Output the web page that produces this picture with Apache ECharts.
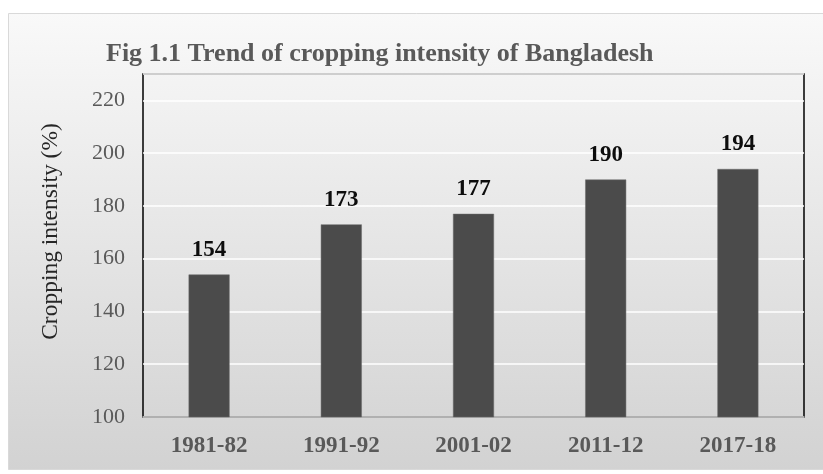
<!DOCTYPE html>
<html>
<head>
<meta charset="utf-8">
<style>
  html, body { margin: 0; padding: 0; background: #ffffff; }
  #chart { width: 823px; height: 474px; }
</style>
<script src="https://cdn.jsdelivr.net/npm/echarts@6/dist/echarts.min.js"></script>
</head>
<body>
<div id="chart"></div>
<script>
// Cropping intensity by survey year
const categories = ['1981-82', '1991-92', '2001-02', '2011-12', '2017-18'];
const intensity = [154, 173, 177, 190, 194];
const yTicks = [100, 120, 140, 160, 180, 200, 220];

const serif = '"Liberation Serif", "Times New Roman", serif';
const chart = echarts.init(document.getElementById('chart'), null, { renderer: 'canvas' });

chart.setOption({
  backgroundColor: '#ffffff',
  animation: false,
  title: {
    text: 'Fig 1.1 Trend of cropping intensity of Bangladesh',
    left: 106,
    top: 41,
    padding: 0,
    textStyle: { fontFamily: serif, fontSize: 26, fontWeight: 'bold', color: '#595959' }
  },
  graphic: [{
    type: 'rect',
    z: -100,
    silent: true,
    shape: { x: 8.5, y: 13.5, width: 830, height: 456 },
    style: {
      fill: new echarts.graphic.LinearGradient(0, 0, 0, 1, [
        { offset: 0, color: '#f9f9f9' },
        { offset: 1, color: '#d2d2d2' }
      ]),
      stroke: '#d9d9d9',
      lineWidth: 1
    }
  }],
  grid: {
    left: 143, top: 74, right: 19, bottom: 57,
    show: true,
    backgroundColor: 'transparent',
    borderColor: '#000000',
    borderWidth: 1.5
  },
  xAxis: {
    type: 'category',
    data: categories,
    axisTick: { show: false },
    axisLine: { show: true, lineStyle: { color: '#a6a6a6', width: 1.5 } },
    axisLabel: { fontFamily: serif, fontSize: 23, fontWeight: 'bold', color: '#595959', margin: 18 }
  },
  yAxis: {
    type: 'value',
    min: 100,
    max: 230,
    interval: 20,
    name: 'Cropping intensity (%)',
    nameLocation: 'middle',
    nameGap: 80,
    nameTextStyle: { fontFamily: serif, fontSize: 23.5, color: '#262626', padding: [0, 0, 0, 28] },
    axisLine: { show: false },
    axisTick: { show: false },
    axisLabel: {
      fontFamily: serif, fontSize: 22, color: '#595959', margin: 18,
      formatter: v => (yTicks.includes(v) ? String(v) : '')
    },
    splitLine: { lineStyle: { color: '#ffffff', width: 1.5 } }
  },
  series: [{
    type: 'bar',
    data: intensity,
    barWidth: '31%',
    itemStyle: { color: '#4b4b4b', borderColor: '#6a6a6a', borderWidth: 0.5 },
    label: {
      show: true,
      position: 'top',
      distance: 13,
      fontFamily: serif, fontSize: 23, fontWeight: 'bold', color: '#0d0d0d'
    }
  }]
});
</script>
</body>
</html>
